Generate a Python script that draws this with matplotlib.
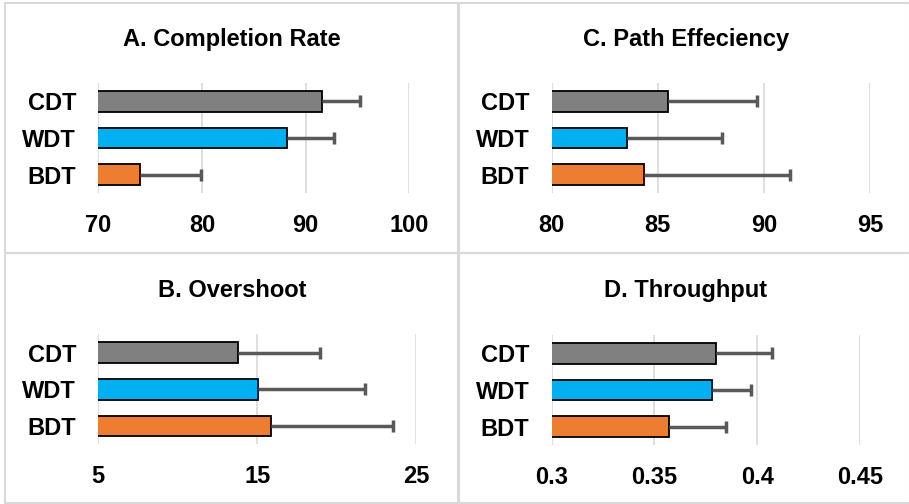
import numpy as np
import matplotlib
matplotlib.use('Agg')
import matplotlib.pyplot as plt
from matplotlib.patches import Rectangle

plt.rcParams['font.family'] = ['Liberation Sans', 'DejaVu Sans']
plt.rcParams['font.weight'] = 'bold'

# Данные (порядок сверху вниз)
methods = ["CDT", "WDT", "BDT"]
colors = ["#808080", "#00B0F0", "#ED7D31"]

completion = [91.6, 88.2, 74.0]
completion_err = [3.6, 4.5, 5.9]

path_eff = [85.47, 83.54, 84.35]
path_eff_err = [4.2, 4.48, 6.89]

overshoot = [13.78, 15.04, 15.86]
overshoot_err = [5.18, 6.76, 7.72]

throughput = [0.380, 0.378, 0.357]
throughput_err = [0.027, 0.019, 0.028]

W, H = 909, 504
fig = plt.figure(figsize=(W / 100, H / 100), dpi=100)


def px_axes(x0, x1, y0, y1):
    """Оси по пиксельным координатам (сверху вниз)."""
    return fig.add_axes([x0 / W, 1 - y1 / H, (x1 - x0) / W, (y1 - y0) / H])


def panel(ax, title, tx, ty, vals, errs, xlim, ticks, ticklabels):
    ypos = np.arange(len(methods))[::-1]
    ax.barh(ypos, vals, height=0.57, color=colors, edgecolor="black",
            linewidth=1.3, zorder=3)
    eb = ax.errorbar(vals, ypos, xerr=[np.zeros(len(errs)), errs], fmt="none",
                     ecolor="#595959", elinewidth=2.5, capsize=4.3, capthick=2.5,
                     zorder=4)
    # только верхний ус (plus)
    eb[1][0].set_visible(False)
    ax.set_xlim(*xlim)
    ax.set_ylim(-0.5, len(methods) - 0.5)
    ax.set_xticks(ticks)
    ax.set_xticklabels(ticklabels)
    ax.set_yticks(ypos)
    ax.set_yticklabels(methods)
    ax.tick_params(axis="x", length=0, pad=15, labelsize=17)
    ax.tick_params(axis="y", length=0, pad=16, labelsize=17)
    ax.grid(axis="x", color="#D9D9D9", linewidth=1.2, zorder=0)
    ax.set_axisbelow(True)
    for s in ax.spines.values():
        s.set_visible(False)
    fig.text(tx / W, 1 - ty / H, title, ha="center", va="baseline",
             fontsize=17, fontweight="bold")


# рамки панелей
for (x0, y0, x1, y1) in [(5, 3, 457.5, 253), (458.5, 3, 910, 253),
                         (5, 253, 457.5, 503), (458.5, 253, 910, 503)]:
    fig.patches.append(Rectangle((x0 / W, 1 - y1 / H), (x1 - x0) / W, (y1 - y0) / H,
                                 transform=fig.transFigure, fill=False,
                                 edgecolor="#D9D9D9", linewidth=1.5))

axA = px_axes(98.3, 409.3, 83, 193)
panel(axA, "A. Completion Rate", 231.7, 46, completion, completion_err,
      (70, 100), [70, 80, 90, 100], ["70", "80", "90", "100"])

axC = px_axes(551.7, 870, 83, 193)
panel(axC, "C. Path Effeciency", 685.8, 46, path_eff, path_eff_err,
      (80, 95), [80, 85, 90, 95], ["80", "85", "90", "95"])

axB = px_axes(98.3, 416, 334.3, 444.3)
panel(axB, "B. Overshoot", 232, 296.7, overshoot, overshoot_err,
      (5, 25), [5, 15, 25], ["5", "15", "25"])

axD = px_axes(551.7, 860, 335, 445)
panel(axD, "D. Throughput", 686, 296.7, throughput, throughput_err,
      (0.3, 0.45), [0.3, 0.35, 0.4, 0.45], ["0.3", "0.35", "0.4", "0.45"])

fig.savefig("out.png", dpi=100)
